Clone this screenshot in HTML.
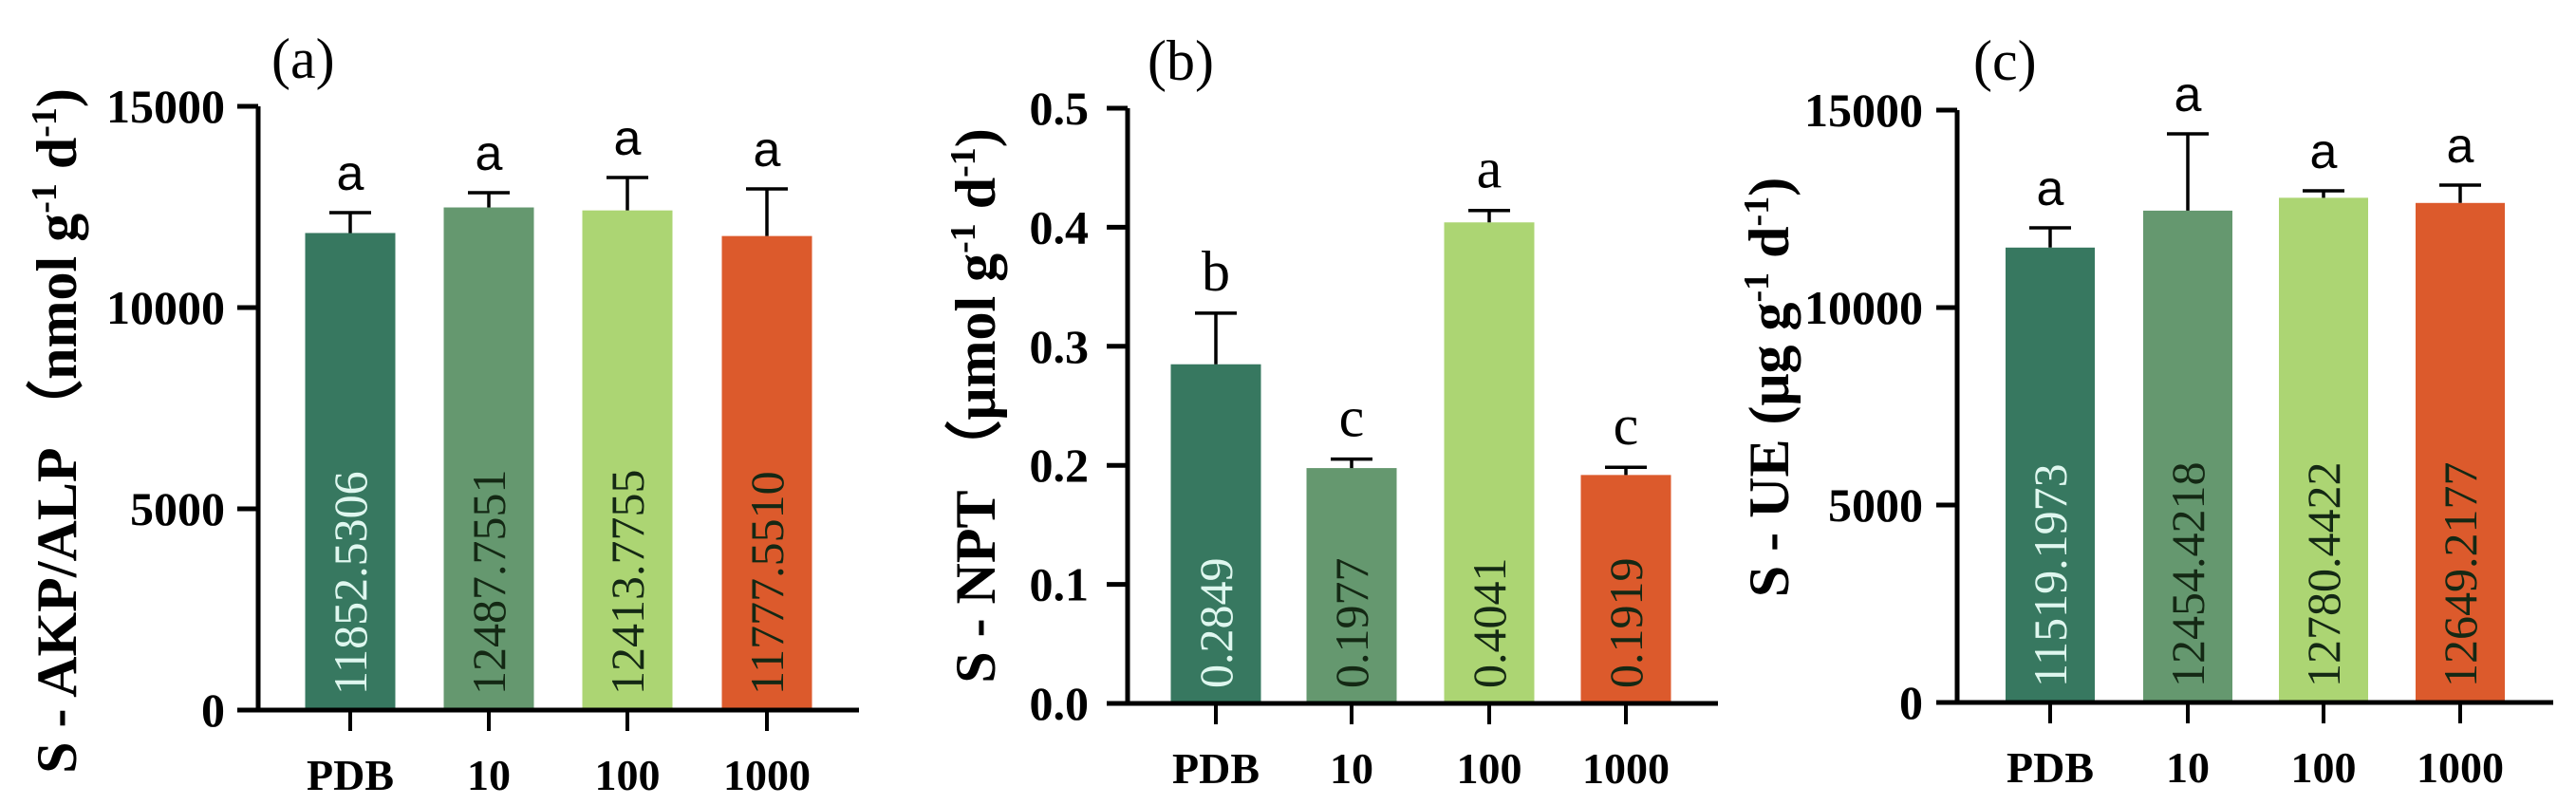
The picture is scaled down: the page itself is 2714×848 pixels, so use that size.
<!DOCTYPE html>
<html><head><meta charset="utf-8"><style>
html,body{margin:0;padding:0;background:#fff;width:2714px;height:848px;overflow:hidden}
svg{display:block}
</style></head><body>
<svg id="fig" width="2714" height="848" viewBox="0 0 2714 848" xmlns="http://www.w3.org/2000/svg"></svg>
<script>
const categories = ["PDB","10","100","1000"];
const colors = ["#377860","#65986f","#acd573","#dc5a2c"];
const valueTextColors = ["#dff7ef","#142814","#142814","#142814"];

const aValues = [11852.5306,12487.7551,12413.7755,11777.5510];
const aErrors = [505,366,817,1170];
const aLetters = ["a","a","a","a"];
const aLabels = ["11852.5306","12487.7551","12413.7755","11777.5510"];
const aTicks = [0,5000,10000,15000];
const aTickLabels = ["0","5000","10000","15000"];

const bValues = [0.2849,0.1977,0.4041,0.1919];
const bErrors = [0.043,0.0075,0.010,0.0065];
const bLetters = ["b","c","a","c"];
const bLabels = ["0.2849","0.1977","0.4041","0.1919"];
const bTicks = [0,0.1,0.2,0.3,0.4,0.5];
const bTickLabels = ["0.0","0.1","0.2","0.3","0.4","0.5"];

const cValues = [11519.1973,12454.4218,12780.4422,12649.2177];
const cErrors = [500,1945,177,452];
const cLetters = ["a","a","a","a"];
const cLabels = ["11519.1973","12454.4218","12780.4422","12649.2177"];
const cTicks = [0,5000,10000,15000];
const cTickLabels = ["0","5000","10000","15000"];

const NS="http://www.w3.org/2000/svg";
const svg=document.getElementById('fig');
function mk(tag,attrs,parent){const e=document.createElementNS(NS,tag);for(const k in attrs)e.setAttribute(k,attrs[k]);(parent||svg).appendChild(e);return e;}

function panel(p){
  const g=mk('g',{});
  
  
  const y=v=>p.y0-(v-p.min)/(p.max-p.min)*(p.y0-p.yTop);
  const pl=mk('text',{x:p.lblX,y:p.lblY,'font-family':'Liberation Serif, serif','font-size':60},g);
  pl.textContent=p.label;
  
  
  categories.forEach((c,i)=>{
    const cx=p.cx[i], hw=p.bw/2;
    const r=mk('rect',{x:cx-hw,y:y(p.values[i]),width:p.bw,height:p.y0-y(p.values[i]),fill:colors[i]},g);
    
    
    const et=y(p.values[i]+p.errors[i]);
    const eb=mk('path',{d:`M${cx} ${y(p.values[i])}V${et}M${cx-22} ${et}H${cx+22}`,stroke:'#000','stroke-width':3.5,fill:'none'},g);
    
    
    const lt=mk('text',{x:cx,y:et-24,'text-anchor':'middle','font-family':p.letterFont,'font-size':p.letterSize},g);
    lt.textContent=p.letters[i];
    
    
    const vt=mk('text',{x:0,y:0,transform:`translate(${cx+17},${p.y0-16}) rotate(-90)`,'font-family':'Liberation Serif, serif','font-size':50,fill:valueTextColors[i]},g);
    vt.textContent=p.labels[i];
    
    
    const xt=mk('line',{x1:cx,x2:cx,y1:p.y0,y2:p.y0+22,stroke:'#000','stroke-width':4},g);
    
    
    const xl=mk('text',{x:cx,y:p.y0+84,'text-anchor':'middle','font-family':'Liberation Serif, serif','font-size':46,'font-weight':'bold'},g);
    xl.textContent=c;
    
    
  });
  const ax=mk('path',{d:`M${p.ax} ${p.yTop}V${p.y0}M${p.ax-22} ${p.y0}H${p.axEnd}`,stroke:'#000','stroke-width':5,fill:'none'},g);
  
  
  p.ticks.forEach((t,i)=>{
    const tl=mk('line',{x1:p.ax-22,x2:p.ax,y1:y(t),y2:y(t),stroke:'#000','stroke-width':5},g);
    
    
    const tx=mk('text',{x:p.tickRight,y:y(t)+17,'text-anchor':'end','font-family':'Liberation Serif, serif','font-size':50,'font-weight':'bold'},g);
    tx.textContent=p.tickLabels[i];
    
    
  });
  const yt=mk('text',{x:0,y:0,transform:`translate(${p.titleX+19},${(p.y0+p.yTop)/2+p.titleShift}) rotate(-90)`,'text-anchor':'middle','font-family':'Liberation Serif, serif','font-size':p.titleSize,'font-weight':'bold'},g);
  yt.innerHTML=p.title;
  
  
}

const sup='<tspan baseline-shift="super" font-size="38">-1</tspan>';
panel({id:'akp',label:'(a)',lblX:286,lblY:82,min:0,max:15000,y0:748,yTop:112,ax:272,axEnd:905,tickRight:237,
  cx:[369,515,661,808],bw:95,values:aValues,errors:aErrors,letters:aLetters,labels:aLabels,ticks:aTicks,tickLabels:aTickLabels,
  letterFont:'Liberation Sans, sans-serif',letterSize:52,titleX:61,titleShift:24,titleSize:60,
  title:'S - AKP/ALP （nmol g'+sup+' d'+sup+')'});
panel({id:'npt',label:'(b)',lblX:1209,lblY:84,min:0,max:0.5,y0:741,yTop:114,ax:1188,axEnd:1810,tickRight:1147,
  cx:[1281,1424,1569,1713],bw:95,values:bValues,errors:bErrors,letters:bLetters,labels:bLabels,ticks:bTicks,tickLabels:bTickLabels,
  letterFont:'Liberation Serif, serif',letterSize:60,titleX:1029,titleShift:0,titleSize:60,
  title:'S - NPT （μmol g'+sup+' d'+sup+')'});
panel({id:'ue',label:'(c)',lblX:2079,lblY:84,min:0,max:15000,y0:740,yTop:116,ax:2062,axEnd:2690,tickRight:2026,
  cx:[2160,2305,2448,2592],bw:94,values:cValues,errors:cErrors,letters:cLetters,labels:cLabels,ticks:cTicks,tickLabels:cTickLabels,
  letterFont:'Liberation Sans, sans-serif',letterSize:52,titleX:1865,titleShift:-20,titleSize:60,
  title:'S - UE (μg g'+sup+' d'+sup+')'});
</script>
</body></html>
